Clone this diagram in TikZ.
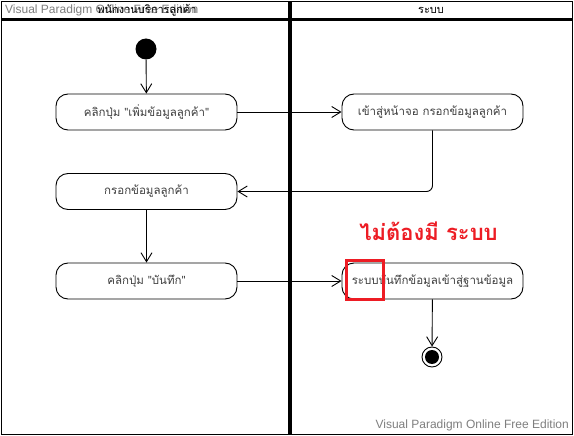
\documentclass[tikz,border=0pt]{standalone}
\usepackage{fontspec}
\setmainfont{Liberation Sans}
\newfontfamily\thai[Script=Thai]{Loma}
\usetikzlibrary{arrows.meta}
\definecolor{txtgray}{HTML}{404040}
\definecolor{wmgray}{HTML}{7F7F7F}
\definecolor{redmark}{HTML}{ED1C24}
\tikzset{
  lane/.style={draw=black, line width=1.4pt},
  act/.style={draw=black, line width=0.9pt, rounded corners=12pt, minimum width=181pt, minimum height=36pt, inner sep=0pt, font=\thai\fontsize{11.5}{13}\selectfont, text=txtgray},
  flow/.style={draw=black, line width=0.9pt, -{Straight Barb[length=9pt,width=11pt,line width=0.9pt]}},
  wm/.style={text=wmgray, font=\fontsize{12}{14}\selectfont, inner sep=0pt},
}
\begin{document}
\begin{tikzpicture}[x=1pt,y=-1pt]
\useasboundingbox (0,0) rectangle (574,436);
\fill[white] (0,0) rectangle (574,436);
% lanes
\draw[lane] (1.5,1.5) rectangle (289,19);
\draw[lane] (1.5,20.5) rectangle (289,434.5);
\draw[lane] (291,1.5) rectangle (572.5,19);
\draw[lane] (291,20.5) rectangle (572.5,434.5);
\node[wm, anchor=west] (wmtop) at (5,10.5) {Visual Paradigm Online Free Edition};
\node[inner sep=0pt, font=\thai\fontsize{11}{12}\selectfont] (h1) at (147,10.5) {พนักงานบริการลูกค้า};
\node[inner sep=0pt, font=\thai\fontsize{11}{12}\selectfont] (h2) at (431,10.5) {ระบบ};
% nodes
\node[circle, fill=black, minimum size=21pt, inner sep=0pt] (start) at (146,49) {};
\node[act] (a1) at (146.5,112) {คลิกปุ่ม "เพิ่มข้อมูลลูกค้า"};
\node[act] (a2) at (432.5,112) {เข้าสู่หน้าจอ กรอกข้อมูลลูกค้า};
\node[act] (a3) at (146.5,191.5) {กรอกข้อมูลลูกค้า};
\node[act] (a4) at (146.5,281) {คลิกปุ่ม "บันทึก"};
\node[act] (a5) at (432.5,281) {ระบบบันทึกข้อมูลเข้าสู่ฐานข้อมูล};
\node[circle, draw=black, line width=0.9pt, minimum size=20pt, inner sep=0pt] (end) at (432,357) {};
\node[circle, fill=black, minimum size=14pt, inner sep=0pt] (endin) at (end) {};
% connectors
\draw[flow] (start) -- (a1);
\draw[flow] (a1) -- (a2);
\draw[flow, rounded corners=6pt] (a2.south) |- (a3.east);
\draw[flow] (a3) -- (a4);
\draw[flow] (a4) -- (a5);
\draw[flow] (a5) -- (end);
% red annotations
\node[text=redmark, inner sep=0pt, font=\thai\bfseries\fontsize{22}{26}\selectfont] (note) at (428.5,231) {ไม่ต้องมี ระบบ};
\draw[redmark, line width=3pt] (346,260.5) rectangle (383,299);
\node[wm, anchor=south east] (wmbot) at (569,431) {Visual Paradigm Online Free Edition};
\end{tikzpicture}
\end{document}
